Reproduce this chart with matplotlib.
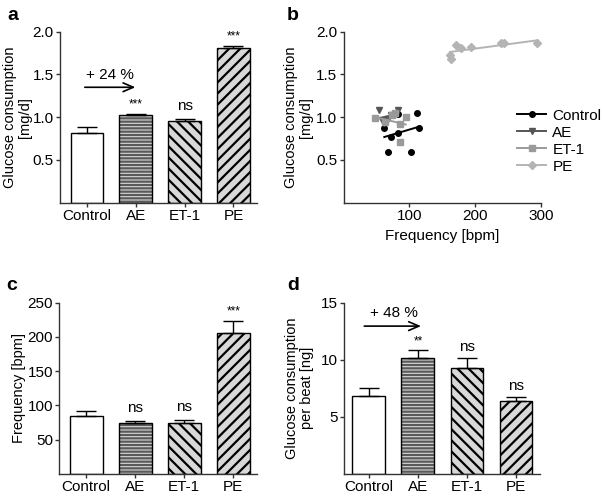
import numpy as np
from matplotlib import pyplot as plt

plt.rcParams['font.family'] = ['Liberation Sans', 'DejaVu Sans']
plt.rcParams['font.size'] = 10.5
plt.rcParams['hatch.linewidth'] = 1.6

groups = ['Control', 'AE', 'ET-1', 'PE']

# a: glucose consumption [mg/d]
gluc_mean = [0.82, 1.02, 0.95, 1.805]
gluc_err = [0.06, 0.02, 0.03, 0.025]
gluc_sig = ['', '***', 'ns', '***']

# c: frequency [bpm]
freq_mean = [85, 74, 74, 206]
freq_err = [7, 4, 5, 17]
freq_sig = ['', 'ns', 'ns', '***']

# d: glucose consumption per beat [ng]
beat_mean = [6.87, 10.2, 9.27, 6.35]
beat_err = [0.7, 0.68, 0.93, 0.4]
beat_sig = ['', '**', 'ns', 'ns']

# b: single experiments, frequency vs glucose consumption
ctrl_x = [112, 83.2, 62, 115, 72.2, 83.2, 67.1, 102.5]
ctrl_y = [1.046, 1.037, 0.87, 0.87, 0.772, 0.819, 0.596, 0.596]
ae_x = [54, 59, 62, 68, 72, 83]
ae_y = [1.08, 0.965, 0.935, 0.98, 1.02, 1.08]
et_x = [47.8, 94.5, 63, 73, 78, 85.8, 85.8]
et_y = [0.994, 1.006, 0.947, 1.026, 1.046, 0.92, 0.713]
pe_x = [161.8, 163.3, 170.9, 178, 193.2, 238.8, 243.8, 294.4]
pe_y = [1.727, 1.677, 1.844, 1.806, 1.817, 1.864, 1.864, 1.864]

fills = ['white', '#d8d8d8', '#d8d8d8', '#d8d8d8']
hatches = [None, '-----', '\\\\\\', '///']
hatch_cols = ['black', '#5a5a5a', 'black', 'black']


def style_axes(ax):
    for s in ['top', 'right']:
        ax.spines[s].set_visible(False)
    for s in ['left', 'bottom']:
        ax.spines[s].set_color('#333333')
        ax.spines[s].set_linewidth(1.0)
    ax.tick_params(direction='out', length=3, width=1, color='#333333', pad=1.5)


def bar_panel(ax, mean, err, sig, sig_off, ylim, yticks):
    x = np.arange(len(groups))
    # hatch pass (edgecolor drives the hatch colour), then outline pass
    ax.bar(x, mean, width=0.67, color=fills, edgecolor=hatch_cols, hatch=hatches, linewidth=0)
    ax.bar(x, mean, width=0.67, fill=False, edgecolor='black', linewidth=1.0)
    ax.errorbar(x, mean, yerr=[np.zeros(len(err)), err], fmt='none', ecolor='black',
                elinewidth=1.0, capsize=7, capthick=1.0)
    for xi, m, e, s in zip(x, mean, err, sig):
        if s == 'ns':
            ax.text(xi, m + e + sig_off, s, ha='center', va='bottom', fontsize=11)
        elif s:
            ax.text(xi, m + e + sig_off * 0.6, s, ha='center', va='bottom', fontsize=8.5)
    ax.set_xticks(x)
    ax.set_xticklabels(groups, fontsize=11)
    ax.set_ylim(*ylim)
    ax.set_yticks(yticks)
    style_axes(ax)


fig = plt.figure(figsize=(6.02, 5.0), dpi=100)
arrow = dict(arrowstyle='->,head_length=0.7,head_width=0.3', color='black', lw=1.2)

# panel a
ax_a = fig.add_axes([0.0997, 0.5946, 0.327, 0.342])
bar_panel(ax_a, gluc_mean, gluc_err, gluc_sig, 0.07, (0, 2.0), [0.5, 1.0, 1.5, 2.0])
ax_a.set_xlim(-0.55, 3.48)
ax_a.set_yticklabels(['0.5', '1.0', '1.5', '2.0'], fontsize=11)
ax_a.set_ylabel('Glucose consumption\n[mg/d]', fontsize=10.5, linespacing=1.1)
ax_a.yaxis.set_label_coords(-0.14, 0.5)
ax_a.annotate('', xy=(1.05, 1.35), xytext=(-0.1, 1.35), arrowprops=arrow)
ax_a.text(0.48, 1.41, '+ 24 %', ha='center', va='bottom', fontsize=11)

# panel b
ax_b = fig.add_axes([0.5706, 0.5946, 0.328, 0.342])
series = [
    ('Control', ctrl_x, ctrl_y, 'black', 'o'),
    ('AE', ae_x, ae_y, '#555555', 'v'),
    ('ET-1', et_x, et_y, '#9a9a9a', 's'),
    ('PE', pe_x, pe_y, '#b4b4b4', 'D'),
]
for name, xs, ys, col, mk in series:
    xs = np.array(xs)
    ys = np.array(ys)
    ax_b.plot(xs, ys, linestyle='none', marker=mk, color=col, markersize=4)
    k, b = np.polyfit(xs, ys, 1)
    xl = np.array([xs.min(), xs.max()])
    ax_b.plot(xl, k * xl + b, color=col, lw=1.4)
    ax_b.plot([], [], color=col, marker=mk, markersize=4, lw=1.4, label=name)
ax_b.set_xlim(0, 300)
ax_b.set_ylim(0, 2.0)
ax_b.set_xticks([100, 200, 300])
ax_b.set_xticklabels(['100', '200', '300'], fontsize=11)
ax_b.set_yticks([0.5, 1.0, 1.5, 2.0])
ax_b.set_yticklabels(['0.5', '1.0', '1.5', '2.0'], fontsize=11)
ax_b.set_xlabel('Frequency [bpm]', labelpad=4, fontsize=11)
ax_b.set_ylabel('Glucose consumption\n[mg/d]', fontsize=10.5, linespacing=1.1)
ax_b.yaxis.set_label_coords(-0.155, 0.5)
style_axes(ax_b)
ax_b.legend(loc='center left', bbox_to_anchor=(0.88, 0.36), frameon=False,
            borderpad=0, borderaxespad=0, handlelength=1.9, handletextpad=0.4,
            labelspacing=0.2, fontsize=11)

# panel c
ax_c = fig.add_axes([0.0985, 0.052, 0.328, 0.3426])
bar_panel(ax_c, freq_mean, freq_err, freq_sig, 8, (0, 250), [50, 100, 150, 200, 250])
ax_c.set_yticklabels(['50', '100', '150', '200', '250'], fontsize=11)
ax_c.set_xlim(-0.55, 3.48)
ax_c.set_ylabel('Frequency [bpm]', fontsize=10.5)
ax_c.yaxis.set_label_coords(-0.17, 0.5)

# panel d
ax_d = fig.add_axes([0.572, 0.052, 0.325, 0.3426])
bar_panel(ax_d, beat_mean, beat_err, beat_sig, 0.35, (0, 15), [5, 10, 15])
ax_d.set_yticklabels(['5', '10', '15'], fontsize=11)
ax_d.set_xlim(-0.5, 3.49)
ax_d.set_ylabel('Glucose consumption\nper beat [ng]', fontsize=10.5, linespacing=1.1)
ax_d.yaxis.set_label_coords(-0.155, 0.5)
ax_d.annotate('', xy=(1.12, 12.95), xytext=(-0.15, 12.95), arrowprops=arrow)
ax_d.text(0.52, 13.45, '+ 48 %', ha='center', va='bottom', fontsize=11)

# panel letters
for lab, (px, py) in zip('abcd', [(0.012, 0.96), (0.477, 0.96), (0.01, 0.42), (0.477, 0.42)]):
    fig.text(px, py, lab, fontsize=14, fontweight='bold', va='baseline')

fig.savefig('out.png', dpi=100)
